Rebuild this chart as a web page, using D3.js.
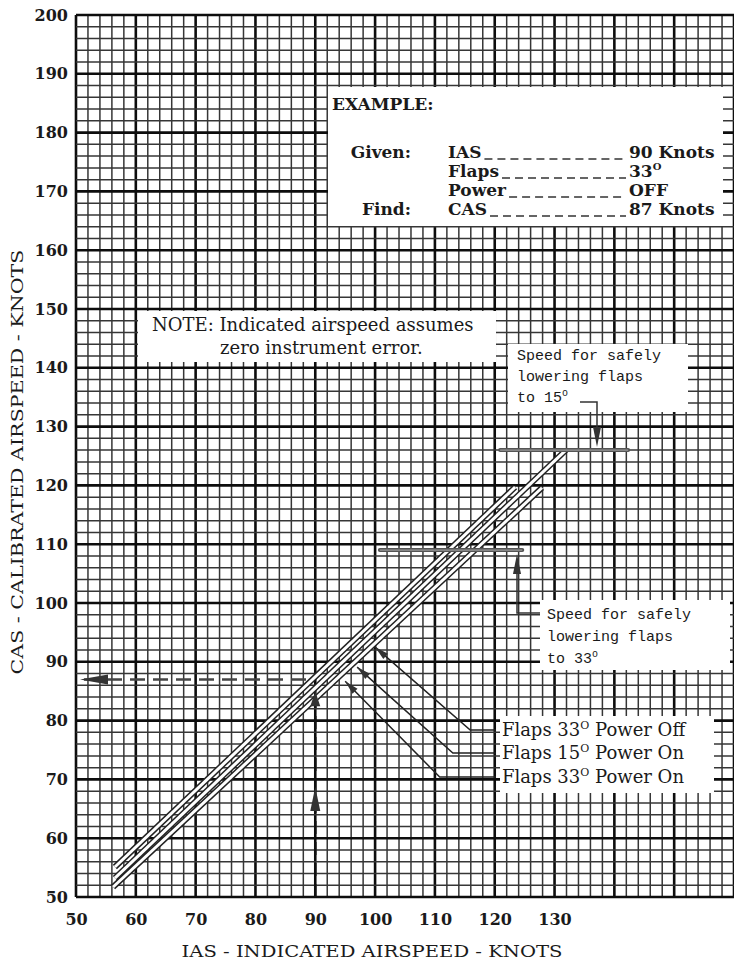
<!DOCTYPE html>
<meta charset="utf-8">
<head>
<title>Airspeed calibration</title>
<script src="https://d3js.org/d3.v7.min.js"></script>
<style>
  body { margin: 0; background: #fff; }
  text { fill: #1a1a1a; }
</style>
</head>
<body>
<div id="chart"></div>
<script>

const width = 734;
const height = 960;

// axis tick labels
const xTickValues = [50, 60, 70, 80, 90, 100, 110, 120, 130];
const yTickValues = [50, 60, 70, 80, 90, 100, 110, 120, 130, 140, 150, 160, 170, 180, 190, 200];

// calibration lines (IAS -> CAS)
const seriesNames = ["Flaps 33° Power Off", "Flaps 15° Power On", "Flaps 33° Power On"];
const seriesIAS = [[56.5, 123.4], [56.5, 131.9], [56.2, 127.9]];
const seriesCAS = [[55.1, 119.7], [53.2, 126.0], [51.7, 119.6]];

// worked example
const exampleIAS = 90;
const exampleCAS = 87;

// flap lowering speed bars
const flapBarCAS = [126, 109];
const flapBarIAS = [[120.9, 142.3], [100.8, 124.6]];

// leaders from the legend labels to the line bundle (IAS, CAS)
const leaderStart = [[100.0, 92.5], [97.0, 89.1], [95.0, 86.7]];
const leaderElbow = [[115.9, 78.4], [113.0, 74.5], [110.8, 70.4]];
const legendIAS = 121.2;

const x = d3.scaleLinear().domain([50, 160]).range([76, 734]);
const y = d3.scaleLinear().domain([50, 200]).range([897, 15]);

const svg = d3.select("#chart")
              .append("svg")
                .attr("width", width)
                .attr("height", height)
                .style("font-family", "DejaVu Serif");

drawGrid();
drawBoxes();
drawSeries();
drawExample();
drawFlapBars();
drawLegend();
drawAxes();
drawTexts();

function drawGrid() {
    const g = svg.append("g").attr("class", "grid");
    const major = function(d) { return d % 10 === 0; };

    g.selectAll("line.v")
        .data(d3.range(50, 161, 2)).enter()
        .append("line")
            .attr("class", "v")
            .attr("x1", function(d) { return x(d); })
            .attr("x2", function(d) { return x(d); })
            .attr("y1", y(200))
            .attr("y2", y(50))
            .attr("stroke", function(d) { return major(d) ? "#0d0d0d" : "#363636"; })
            .attr("stroke-width", function(d) { return major(d) ? 2.6 : 1.5; });

    g.selectAll("line.h")
        .data(d3.range(50, 201, 2)).enter()
        .append("line")
            .attr("class", "h")
            .attr("x1", x(50))
            .attr("x2", x(160))
            .attr("y1", function(d) { return y(d); })
            .attr("y2", function(d) { return y(d); })
            .attr("stroke", function(d) { return major(d) ? "#0d0d0d" : "#363636"; })
            .attr("stroke-width", function(d) { return major(d) ? 2.6 : 1.5; });
}

function drawBoxes() {
    // white patches where the printed notes sit on the grid
    const boxes = [
        [328, 87, 395, 139],   // example
        [138, 311, 358, 51],   // note
        [508, 344, 180, 68],   // flaps 15 speed
        [540, 600, 190, 70],   // flaps 33 speed
        [500, 716, 214, 77]    // legend
    ];
    svg.append("g").selectAll("rect")
        .data(boxes).enter()
        .append("rect")
            .attr("x", function(d) { return d[0]; })
            .attr("y", function(d) { return d[1]; })
            .attr("width", function(d) { return d[2]; })
            .attr("height", function(d) { return d[3]; })
            .attr("fill", "#fff");
}

function drawSeries() {
    const line = d3.line()
                   .x(function(d) { return x(d[0]); })
                   .y(function(d) { return y(d[1]); });
    const data = seriesIAS.map(function(ias, i) {
        return ias.map(function(v, j) { return [v, seriesCAS[i][j]]; });
    });
    const g = svg.append("g").attr("class", "series");
    g.selectAll("path.outer")
        .data(data).enter()
        .append("path")
            .attr("d", line)
            .attr("fill", "none")
            .attr("stroke", "#222")
            .attr("stroke-width", 6);
    g.selectAll("path.inner")
        .data(data).enter()
        .append("path")
            .attr("d", line)
            .attr("fill", "none")
            .attr("stroke", "#fff")
            .attr("stroke-width", 3);
}

function casAt(i, ias) {
    const a = seriesIAS[i], c = seriesCAS[i];
    return c[0] + (ias - a[0]) * (c[1] - c[0]) / (a[1] - a[0]);
}

function arrow(px, py, dir, len, half) {
    // dir: "up", "down", "left" or an angle in radians pointing at the tip
    let p;
    if (dir === "up") p = [[px, py], [px - half, py + len], [px + half, py + len]];
    else if (dir === "down") p = [[px, py], [px - half, py - len], [px + half, py - len]];
    else if (dir === "left") p = [[px, py], [px + len, py - half], [px + len, py + half]];
    else {
        const bx = px - len * Math.cos(dir), by = py - len * Math.sin(dir);
        const nx = -Math.sin(dir) * half, ny = Math.cos(dir) * half;
        p = [[px, py], [bx + nx, by + ny], [bx - nx, by - ny]];
    }
    svg.append("path")
        .attr("d", "M" + p.join("L") + "Z")
        .attr("fill", "#333");
}

function drawExample() {
    const g = svg.append("g").attr("class", "example");
    const cx = x(exampleIAS);
    const tipY = y(85);
    g.append("line")
        .attr("x1", cx).attr("x2", cx)
        .attr("y1", y(50)).attr("y2", tipY + 10)
        .attr("stroke", "#111")
        .attr("stroke-width", 2.4)
        .attr("stroke-dasharray", "13,8");
    g.append("line")
        .attr("x1", x(50) + 8).attr("x2", x(exampleIAS) - 2)
        .attr("y1", y(exampleCAS)).attr("y2", y(exampleCAS))
        .attr("stroke", "#444")
        .attr("stroke-width", 2.4)
        .attr("stroke-dasharray", "15,8");
    arrow(cx, y(68.7), "up", 24, 5);
    arrow(cx, tipY, "up", 15, 5);
    arrow(x(50) + 4, y(exampleCAS), "left", 28, 5);
}

function drawFlapBars() {
    const g = svg.append("g").attr("class", "flapbars");
    flapBarCAS.forEach(function(cas, i) {
        g.append("line")
            .attr("x1", x(flapBarIAS[i][0])).attr("x2", x(flapBarIAS[i][1]))
            .attr("y1", y(cas)).attr("y2", y(cas))
            .attr("stroke", "#555")
            .attr("stroke-width", 4)
            .attr("stroke-linecap", "round");
        g.append("line")
            .attr("x1", x(flapBarIAS[i][0])).attr("x2", x(flapBarIAS[i][1]))
            .attr("y1", y(cas)).attr("y2", y(cas))
            .attr("stroke", "#999")
            .attr("stroke-width", 1.2);
    });
    // 15 deg leader: from text down to bar
    const x15 = 597;
    g.append("path")
        .attr("d", "M580," + 402 + "H" + x15 + "V" + (y(126) - 20))
        .attr("fill", "none").attr("stroke", "#333").attr("stroke-width", 1.5);
    arrow(x15, y(126) - 3, "down", 20, 4);
    // 33 deg leader: from bar down to text
    const x33 = 517;
    arrow(x33, y(109) + 4, "up", 20, 4);
    g.append("path")
        .attr("d", "M" + x33 + "," + (y(109) + 24) + "V613H540")
        .attr("fill", "none").attr("stroke", "#333").attr("stroke-width", 1.5);
}

function drawLegend() {
    const g = svg.append("g").attr("class", "legend");
    seriesNames.forEach(function(name, i) {
        const sx = x(leaderStart[i][0]), sy = y(leaderStart[i][1]);
        const ex = x(leaderElbow[i][0]), ey = y(leaderElbow[i][1]);
        g.append("path")
            .attr("d", "M" + sx + "," + sy + "L" + ex + "," + ey + "H" + (x(legendIAS) - 6))
            .attr("fill", "none")
            .attr("stroke", "#222")
            .attr("stroke-width", 1.5);
        arrow(sx, sy, Math.atan2(sy - ey, sx - ex), 14, 3.5);
        const t = g.append("text")
            .attr("x", x(legendIAS))
            .attr("y", ey + 6)
            .style("font-size", "18px");
        const parts = name.split("°");
        t.append("tspan").text(parts[0]);
        t.append("tspan").attr("dy", -7).style("font-size", "11px").text("O");
        t.append("tspan").attr("dy", 7).text(parts[1]);
    });
}

function drawAxes() {
    const yAxis = d3.axisLeft(y).tickValues(yTickValues).tickSize(0).tickPadding(8);
    svg.append("g")
        .attr("transform", "translate(" + x(50) + ",0)")
        .call(yAxis)
        .call(function(g) { g.select(".domain").remove(); })
        .selectAll("text")
            .style("font-family", "DejaVu Serif")
            .style("font-size", "16px")
            .style("font-weight", "bold");

    const xAxis = d3.axisBottom(x).tickValues(xTickValues).tickSize(0).tickPadding(17);
    svg.append("g")
        .attr("transform", "translate(0," + y(50) + ")")
        .call(xAxis)
        .call(function(g) { g.select(".domain").remove(); })
        .selectAll("text")
            .style("font-family", "DejaVu Serif")
            .style("font-size", "16px")
            .style("font-weight", "bold");

    svg.append("text")
        .attr("x", 372).attr("y", 957)
        .attr("text-anchor", "middle")
        .attr("textLength", 381).attr("lengthAdjust", "spacingAndGlyphs")
        .style("font-size", "17px")
        .text("IAS - INDICATED AIRSPEED - KNOTS");

    svg.append("text")
        .attr("transform", "translate(23,462) rotate(-90)")
        .attr("text-anchor", "middle")
        .attr("textLength", 425).attr("lengthAdjust", "spacingAndGlyphs")
        .style("font-size", "17px")
        .text("CAS - CALIBRATED AIRSPEED - KNOTS");
}

function drawTexts() {
    const g = svg.append("g").attr("class", "notes");

    // example block
    g.append("text").attr("x", 332).attr("y", 110).style("font-size", "17px")
        .style("font-weight", "bold").text("EXAMPLE:");
    const rows = [
        ["Given:", "IAS", "90 Knots", 158],
        ["", "Flaps", "33", 177],
        ["", "Power", "OFF", 196],
        ["Find:", "CAS", "87 Knots", 215]
    ];
    rows.forEach(function(r) {
        if (r[0]) g.append("text").attr("x", 411).attr("y", r[3]).attr("text-anchor", "end")
                    .style("font-size", "17px").style("font-weight", "bold").text(r[0]);
        const w = g.append("text").attr("x", 448).attr("y", r[3])
                    .style("font-size", "17px").style("font-weight", "bold").text(r[1]);
        const len = w.node().getComputedTextLength();
        g.append("line")
            .attr("x1", 448 + len + 3).attr("x2", 626)
            .attr("y1", r[3] + 1).attr("y2", r[3] + 1)
            .attr("stroke", "#333").attr("stroke-width", 1.6)
            .attr("stroke-dasharray", "8,5");
        const v = g.append("text").attr("x", 629).attr("y", r[3])
                    .style("font-size", "17px").style("font-weight", "bold");
        v.append("tspan").text(r[2]);
        if (r[2] === "33") v.append("tspan").attr("dy", -7).style("font-size", "10px").text("O");
    });

    // note
    g.append("text").attr("x", 152).attr("y", 331).style("font-size", "18px")
        .text("NOTE: Indicated airspeed assumes");
    g.append("text").attr("x", 220).attr("y", 354).style("font-size", "18px")
        .text("zero instrument error.");

    // flap speed notes
    const monoFont = "Liberation Mono";
    [["Speed for safely", 360], ["lowering flaps", 381], ["to 15", 402]].forEach(function(r) {
        const t = g.append("text").attr("x", 517).attr("y", r[1]).style("font-family", monoFont)
            .style("font-size", "15px").text(r[0]);
        if (r[0] === "to 15") t.append("tspan").attr("dy", -6).style("font-size", "10px").text("o");
    });
    [["Speed for safely", 619], ["lowering flaps", 641], ["to 33", 663]].forEach(function(r) {
        const t = g.append("text").attr("x", 547).attr("y", r[1]).style("font-family", monoFont)
            .style("font-size", "15px").text(r[0]);
        if (r[0] === "to 33") t.append("tspan").attr("dy", -6).style("font-size", "10px").text("o");
    });
}
</script>
</body>
